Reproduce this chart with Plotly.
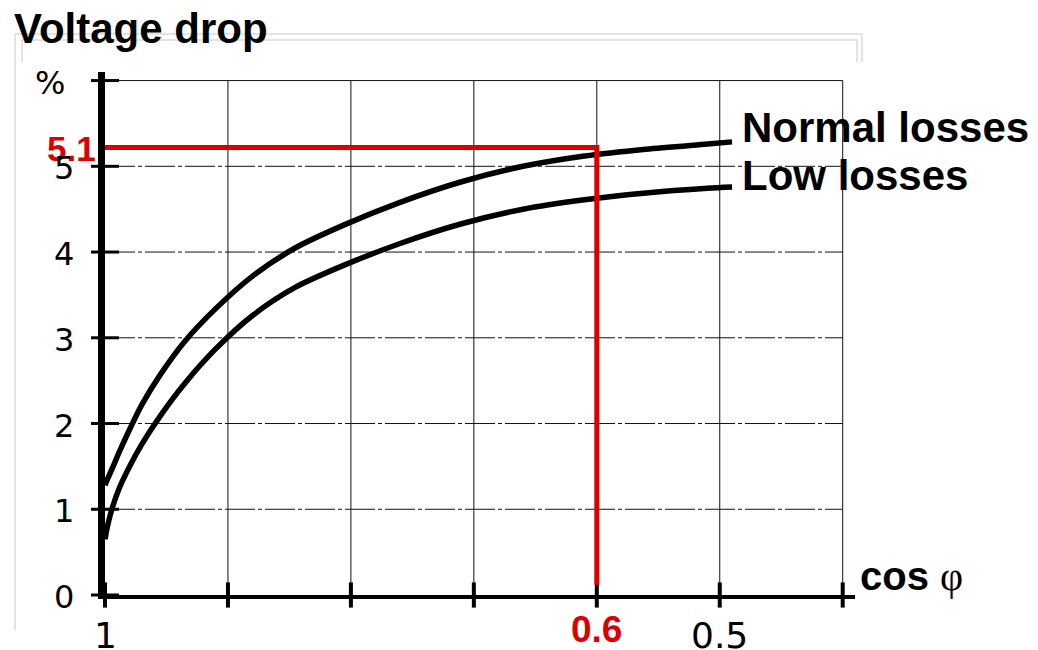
import plotly.graph_objects as go

# ---- data ----
cos_phi = [1.0, 0.998, 0.994, 0.988, 0.98, 0.97, 0.955, 0.935, 0.91, 0.88, 0.845, 0.805, 0.76, 0.71, 0.66, 0.61, 0.56, 0.51, 0.49]
normal_drop = [1.28, 1.35, 1.48, 1.68, 1.93, 2.22, 2.57, 2.96, 3.34, 3.72, 4.05, 4.32, 4.58, 4.82, 5.0, 5.12, 5.2, 5.26, 5.285]
low_drop = [0.65, 0.8, 1.02, 1.26, 1.5, 1.76, 2.09, 2.47, 2.87, 3.26, 3.59, 3.85, 4.10, 4.33, 4.50, 4.61, 4.69, 4.745, 4.76]

grid_x = [1.0, 0.9, 0.8, 0.7, 0.6, 0.5, 0.4]
grid_y = [0, 1, 2, 3, 4, 5, 6]
y_tick_text = ["0", "1", "2", "3", "4", "5", "%"]
x_label_vals = [1.0, 0.5]
x_label_text = ["1", "0.5"]

marker_cos = 0.6
marker_drop = 5.22
marker_label_x = "0.6"
marker_label_y = "5.1"

series_names = ["Normal losses", "Low losses"]

RED = "#dd0000"
FONT = "Liberation Sans, Arial, sans-serif"
TICKFONT = "DejaVu Sans, sans-serif"

# plot area in pixels (for decorative frame only)
W, H = 1038, 650
L, R, T, B = 105, 855, 72, 595


def px(xp):
    return (xp - L) / (R - L)


def py(yp):
    return (B - yp) / (B - T)


fig = go.Figure()

# curves
for ys, nm in [(normal_drop, series_names[0]), (low_drop, series_names[1])]:
    fig.add_trace(go.Scatter(x=cos_phi, y=ys, mode="lines",
                             line=dict(color="black", width=5.5, shape="spline", smoothing=0.8),
                             cliponaxis=False, name=nm))

# tick marks
fig.add_trace(go.Scatter(x=[grid_x[0]] * len(grid_y), y=grid_y, mode="markers",
                         marker=dict(symbol="line-ew", size=20, line=dict(color="black", width=3)),
                         cliponaxis=False))
fig.add_trace(go.Scatter(x=grid_x, y=[0] * len(grid_x), mode="markers",
                         marker=dict(symbol="line-ns", size=18, line=dict(color="black", width=4)),
                         cliponaxis=False))

# red reading lines
fig.add_trace(go.Scatter(x=[grid_x[0], marker_cos, marker_cos], y=[marker_drop, marker_drop, 0.12],
                         mode="lines", line=dict(color=RED, width=5), cliponaxis=False))

shapes = []
# grid
for gx in grid_x[1:]:
    shapes.append(dict(type="line", xref="x", yref="y", x0=gx, x1=gx, y0=0, y1=grid_y[-1],
                       line=dict(color="#111", width=1), layer="below"))
for gy in grid_y[1:]:
    shapes.append(dict(type="line", xref="x", yref="y", x0=grid_x[0], x1=grid_x[-1], y0=gy, y1=gy,
                       line=dict(color="#111", width=1, dash="30px,3px,4px,3px" if gy < 6 else "solid"),
                       layer="below"))
# decorative grey frame
frame = "#c8c8c8"
for (x0, y0, x1, y1) in [(15, 34, 862, 34), (15, 34, 15, 630), (862, 34, 862, 62),
                         (22, 40, 857, 40), (22, 40, 22, 62), (857, 40, 857, 62)]:
    shapes.append(dict(type="line", xref="paper", yref="paper", x0=px(x0), x1=px(x1),
                       y0=py(y0), y1=py(y1), line=dict(color=frame, width=1), layer="below"))

annotations = [
    dict(text="<b>Voltage drop</b>", xref="paper", yref="paper", x=px(12), y=py(28),
         xanchor="left", yanchor="middle", showarrow=False, font=dict(size=42, color="black", family=FONT)),
    dict(text="<b>" + series_names[0] + "</b>", xref="x", yref="y", x=cos_phi[-1], y=normal_drop[-1],
         xanchor="left", yanchor="middle", xshift=8, yshift=14, showarrow=False,
         font=dict(size=42, color="black", family=FONT)),
    dict(text="<b>" + series_names[1] + "</b>", xref="x", yref="y", x=cos_phi[-1], y=low_drop[-1],
         xanchor="left", yanchor="middle", xshift=8, yshift=11, showarrow=False,
         font=dict(size=42, color="black", family=FONT)),
    dict(text="<b>cos</b> <span style='font-family:Liberation Serif'>φ</span>", xref="paper", yref="y",
         x=px(858), y=0.22, xanchor="left", yanchor="middle", showarrow=False,
         font=dict(size=40, color="black", family=FONT)),
    dict(text="<b>" + marker_label_y + "</b>", xref="x", yref="y", x=grid_x[0], y=marker_drop,
         xanchor="right", yanchor="middle", xshift=-7, yshift=-1, showarrow=False,
         font=dict(size=35, color=RED, family=FONT)),
    dict(text="<b>" + marker_label_x + "</b>", xref="x", yref="y", x=marker_cos, y=0,
         xanchor="center", yanchor="top", yshift=-12, showarrow=False,
         font=dict(size=37, color=RED, family=FONT)),
]
for xv, xt in zip(x_label_vals, x_label_text):
    annotations.append(dict(text=xt, xref="x", yref="y", x=xv, y=0, xanchor="center", yanchor="top",
                            yshift=-18, showarrow=False,
                            font=dict(size=36, color="black", family=TICKFONT)))
for yv, yt in zip(grid_y, y_tick_text):
    annotations.append(dict(text=yt, xref="x", yref="y", x=grid_x[0], y=yv, xanchor="center",
                            yanchor="middle", xshift=-55 if yt == "%" else -41, yshift=-2,
                            showarrow=False, font=dict(size=32, color="black", family=TICKFONT)))

fig.update_layout(
    width=W, height=H,
    margin=dict(l=L, r=W - R, t=T, b=H - B),
    paper_bgcolor="white", plot_bgcolor="white",
    showlegend=False,
    shapes=shapes,
    annotations=annotations,
    xaxis=dict(range=[1.0, 0.39], showgrid=False, zeroline=False, showline=True, linecolor="black",
               linewidth=4, tickvals=[], showticklabels=False, fixedrange=True),
    yaxis=dict(range=[0, 6.1], showgrid=False, zeroline=False, showline=True, linecolor="black",
               linewidth=7, tickvals=[], showticklabels=False, fixedrange=True),
)

fig.write_html("out.html", config={"displayModeBar": False},
               post_script="document.body.style.margin='0';")
